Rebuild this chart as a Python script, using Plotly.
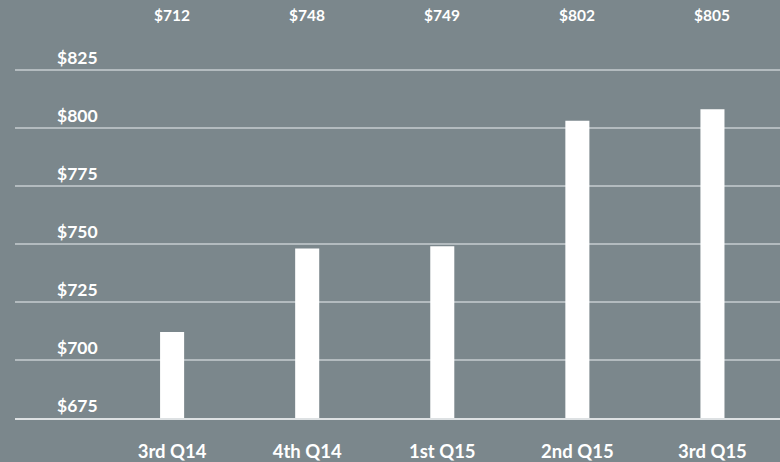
import plotly.graph_objects as go

categories = ["3rd Q14", "4th Q14", "1st Q15", "2nd Q15", "3rd Q15"]
value_labels = ["$712", "$748", "$749", "$802", "$805"]
bar_heights = [712, 748, 749, 803, 808]
y_ticks = [675, 700, 725, 750, 775, 800, 825]
y_tick_labels = ["$675", "$700", "$725", "$750", "$775", "$800", "$825"]

BG = "#7b878c"
FONT = "Lato"

fig = go.Figure()
fig.add_trace(go.Bar(
    x=categories, y=bar_heights, width=0.178,
    marker=dict(color="#ffffff", line=dict(width=0)),
    hoverinfo="skip",
))

annotations = []
for c, t in zip(categories, value_labels):
    annotations.append(dict(
        x=c, xref="x", y=1 - 15 / 422, yref="paper", text=t, showarrow=False,
        xanchor="center", yanchor="middle",
        font=dict(family=FONT, size=15.5, color="#ffffff", weight="bold"),
    ))
for v, t in zip(y_ticks, y_tick_labels):
    annotations.append(dict(
        x=(55 - 15) / 765, xref="paper", y=v, yref="y", text=t, showarrow=False,
        xanchor="left", yanchor="bottom", yshift=0,
        font=dict(family=FONT, size=17.5, color="#ffffff", weight="bold"),
    ))

fig.update_layout(
    width=780, height=462,
    margin=dict(l=15, r=0, t=0, b=40),
    paper_bgcolor=BG, plot_bgcolor=BG,
    showlegend=False,
    annotations=annotations,
    xaxis=dict(
        type="category", range=[-1.163, 4.5], showgrid=False, ticks="",
        showline=True, linecolor="#dde1e3", linewidth=2,
        tickfont=dict(family=FONT, size=18.5, color="#ffffff", weight="bold"),
        ticklabelstandoff=16,
    ),
    yaxis=dict(
        range=[675, 855], tickvals=y_ticks, showticklabels=False,
        showgrid=True, gridcolor="#b3bbbf", gridwidth=1.5,
        zeroline=False, ticks="",
    ),
)

fig.write_html(
    "out.html",
    config={"displayModeBar": False},
    post_script="document.body.style.margin='0';document.body.style.padding='0';",
)
